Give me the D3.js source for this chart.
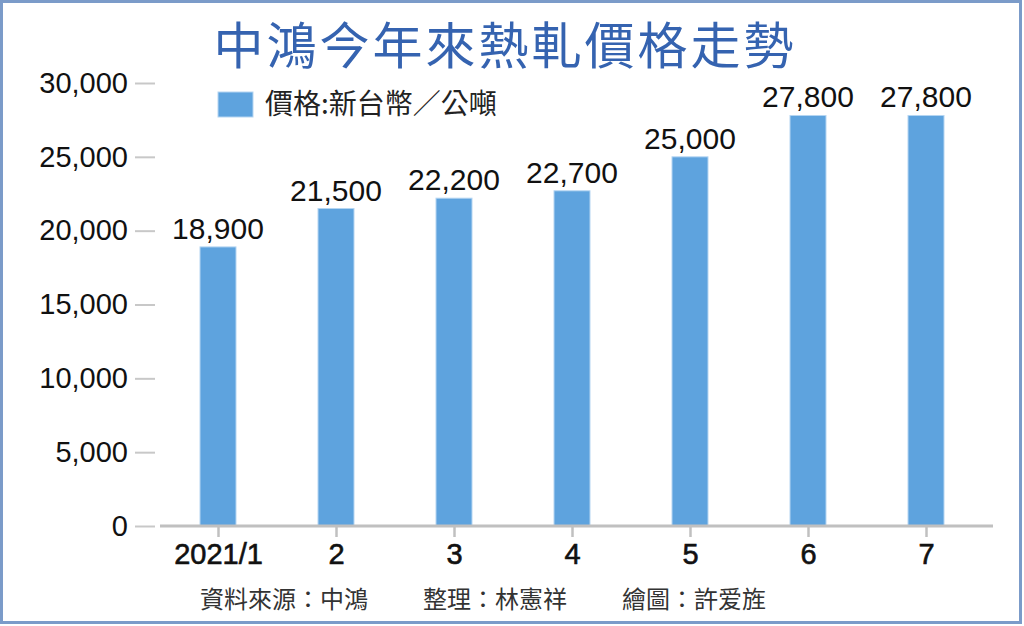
<!DOCTYPE html>
<html><head><meta charset="utf-8">
<script src="https://cdn.jsdelivr.net/npm/d3@7"></script>
<style>
html,body{margin:0;padding:0;background:#fff;}
svg{display:block;}
</style></head>
<body>
<svg id="c" width="1024" height="626"></svg>
<script>
const categories = ["2021/1","2","3","4","5","6","7"];
const values = [18900,21500,22200,22700,25000,27800,27800];
const yTicks = [0,5000,10000,15000,20000,25000,30000];
const title = "中鴻今年來熱軋價格走勢";
const legendLabel = "價格:新台幣／公噸";
const footer = ["資料來源：中鴻","整理：林憲祥","繪圖：許爱旌"];

const svg = d3.select("#c");
const latin = "'Liberation Sans', Arial, 'Noto Sans CJK TC', sans-serif";
const cjk = "'Noto Sans CJK TC', 'Noto Sans CJK JP', sans-serif";

// border
svg.append("rect").attr("x",1.5).attr("y",1.5).attr("width",1019).attr("height",621)
  .attr("fill","#fff").attr("stroke","#7b9bc9").attr("stroke-width",3);

// title
svg.append("text").attr("x",505).attr("y",64).attr("text-anchor","middle")
  .attr("font-family",cjk).attr("font-size",50).attr("letter-spacing",3)
  .attr("fill","#3563b0").text(title);

const y = d3.scaleLinear().domain([0,30000]).range([526,83]);
const x = d3.scalePoint().domain(categories).range([218,926]);
const bw = 36;

// y axis
const yAxis = d3.axisLeft(y).tickValues(yTicks).tickSize(20).tickPadding(7)
  .tickFormat(d3.format(","));
const gy = svg.append("g").attr("transform","translate(155,0)").call(yAxis);
gy.select(".domain").remove();
gy.selectAll(".tick line").attr("stroke","#c8c8c8").attr("stroke-width",2);
gy.selectAll(".tick text").attr("font-family",latin).attr("font-size",29).attr("fill","#111");

// x axis
const xAxis = d3.axisBottom(x).tickSize(11).tickPadding(6);
const gx = svg.append("g").attr("transform","translate(0,526)").call(xAxis);
gx.select(".domain").remove();
gx.selectAll(".tick line").attr("stroke","#c0c0c0").attr("stroke-width",2.5);
gx.selectAll(".tick text").attr("font-family",latin).attr("font-size",29)
  .attr("fill","#111").attr("stroke","#111").attr("stroke-width",0.6);

// bars
svg.append("g").selectAll("rect").data(values).join("rect")
  .attr("x",(d,i)=>x(categories[i])-bw/2).attr("width",bw)
  .attr("y",d=>y(d)).attr("height",d=>y(0)-y(d))
  .attr("fill","#5ea3de").attr("stroke","#b5d5f2").attr("stroke-width",1);

// axis line
svg.append("line").attr("x1",160).attr("x2",993).attr("y1",526).attr("y2",526)
  .attr("stroke","#c0c0c0").attr("stroke-width",3);

// value labels
svg.append("g").selectAll("text").data(values).join("text")
  .attr("x",(d,i)=>x(categories[i])).attr("y",d=>y(d)-8)
  .attr("text-anchor","middle").attr("font-family",latin).attr("font-size",30)
  .attr("fill","#111").text(d=>d3.format(",")(d));

// legend
svg.append("rect").attr("x",218).attr("y",92).attr("width",35).attr("height",25)
  .attr("fill","#5ea3de").attr("stroke","#b5d5f2");
svg.append("text").attr("x",265).attr("y",114).attr("font-family",cjk)
  .attr("font-size",28).attr("fill","#222").text(legendLabel);

// footer
const fx = [200,423,622];
svg.append("g").selectAll("text").data(footer).join("text")
  .attr("x",(d,i)=>fx[i]).attr("y",608).attr("font-family",cjk)
  .attr("font-size",24).attr("fill","#333").text(d=>d);
</script>
</body></html>
